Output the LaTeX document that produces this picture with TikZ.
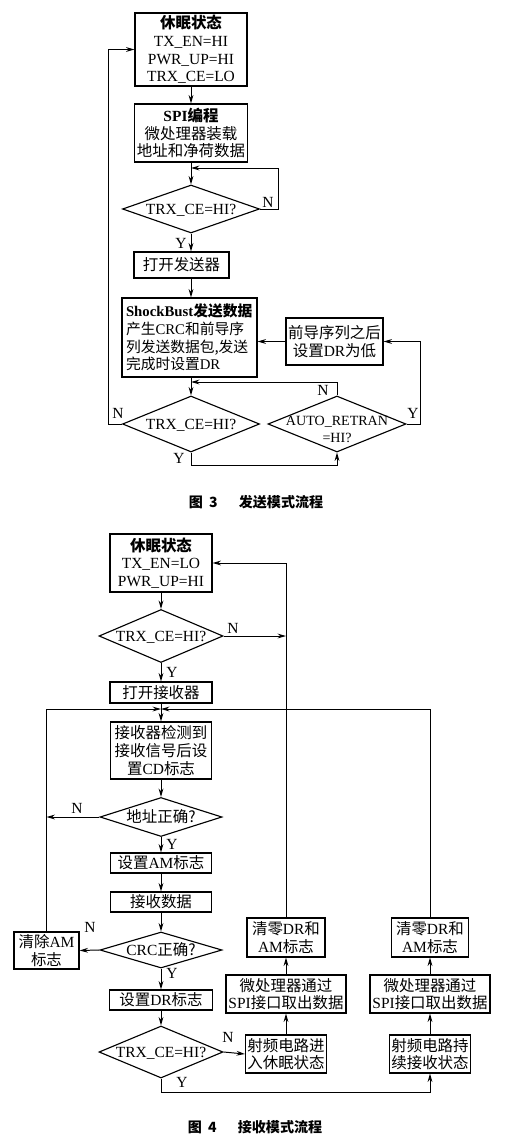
\documentclass[tikz,border=0pt]{standalone}
\usepackage{fontspec}
\setmainfont{Liberation Serif}
\newfontfamily\cjk{Noto Sans CJK SC}
\newfontfamily\capfont{Noto Sans CJK SC}[LetterSpace=22]
\newcommand\zh[1]{{\cjk #1}}
% text of a diamond takes no room, so the diamond keeps its given size
\newcommand\flattext[2][-3.6pt]{\makebox[0pt]{\smash{\raisebox{#1}{#2}}}}
\usetikzlibrary{arrows.meta, shapes.geometric, calc}

\tikzset{
  box/.style={draw, line width=0.8pt, inner sep=0pt, align=center, font=\fontsize{11}{12.5}\selectfont},
  cond/.style={draw, diamond, line width=0.8pt, inner sep=0pt, font=\fontsize{11}{12}\selectfont},
  arr/.style={line width=0.7pt, -{Stealth[length=6pt,width=3.4pt]}},
  lab/.style={font=\fontsize{11}{12}\selectfont, inner sep=0pt},
  captext/.style={font=\capfont\bfseries\fontsize{10}{12}\selectfont, inner sep=0pt},
}

\begin{document}
\begin{tikzpicture}[x=0.025cm, y=-0.025cm]
\useasboundingbox (0,0) rectangle (508,1141);

% send mode
\node[box, minimum width=112*0.025cm, minimum height=73*0.025cm] (sleepT) at (191,49.5)
  {\textbf{\zh{休眠状态}}\\TX\_EN=HI\\PWR\_UP=HI\\TRX\_CE=LO};
\node[box, minimum width=113*0.025cm, minimum height=58*0.025cm] (spiT) at (191,133)
  {\textbf{SPI\zh{编程}}\\\zh{微处理器装载}\\\zh{地址和净荷数据}};
\node[cond, minimum width=137*0.025cm, minimum height=48*0.025cm] (chkT) at (191,209) {\flattext{TRX\_CE=HI?}};
\node[box, minimum width=95*0.025cm, minimum height=26*0.025cm] (txon) at (181.5,265) {\zh{打开发送器}};
\node[box, align=left, font=\fontsize{10.5}{12.5}\selectfont, text width=127*0.025cm,
  minimum width=135*0.025cm, minimum height=79*0.025cm] (burst) at (189.5,337.5)
  {\textbf{ShockBust\zh{发送数据}}\\\zh{产生}CRC\zh{和前导序}\\\zh{列发送数据包,发送}\\\zh{完成时设置}DR};
\node[box, minimum width=97*0.025cm, minimum height=47*0.025cm] (pre) at (334.5,341.5)
  {\zh{前导序列之后}\\\zh{设置}DR\zh{为低}};
\node[cond, minimum width=137*0.025cm, minimum height=56*0.025cm] (chkT2) at (191,424) {\flattext{TRX\_CE=HI?}};
\node[cond, font=\fontsize{10}{12}\selectfont, minimum width=138*0.025cm, minimum height=56*0.025cm] (retran) at (337,424)
  {\flattext[-7.5pt]{\begin{tabular}[c]{@{}c@{}}AUTO\_RETRAN\\=HI?\end{tabular}}};
\coordinate (fbT) at (191,168);
\coordinate (mgT) at (191,382);

\draw[arr] (sleepT) -- (spiT);
\draw[arr] (spiT) -- (chkT);
\draw[arr] (chkT.east) -- ++(18,0) |- (fbT);
\draw[arr] (chkT.south) -- (chkT.south |- txon.north);
\draw[arr] (chkT.south |- txon.south) -- (chkT.south |- burst.north);
\draw[arr] (chkT.south |- burst.south) -- (chkT2.north);
\draw[arr] (retran.north) |- (mgT);
\draw[arr] (retran.east) -- ++(14,0) |- (pre.east);
\draw[arr] (pre.west) -- (pre.west -| burst.east);
\draw[arr] (chkT2.west) -- ++(-13,0) |- (sleepT.west);
\draw[arr] (chkT2.south) -- ++(0,13) -| (retran.south);

\node[lab] (nT1) at (268,202) {N};
\node[lab] (yT1) at (181,243) {Y};
\node[lab] (nT2) at (118,413) {N};
\node[lab] (yT2) at (179,458) {Y};
\node[lab] (nT3) at (323,390) {N};
\node[lab] (yT3) at (413,413) {Y};
\node[captext] (cap3) at (256,502) {\zh{图} 3\hspace{1.5em}\zh{发送模式流程}};

% receive mode
\node[box, minimum width=102*0.025cm, minimum height=58*0.025cm] (sleepR) at (161,563)
  {\textbf{\zh{休眠状态}}\\TX\_EN=LO\\PWR\_UP=HI};
\node[cond, minimum width=124*0.025cm, minimum height=53*0.025cm] (chkR) at (161,636) {\flattext{TRX\_CE=HI?}};
\node[box, minimum width=102*0.025cm, minimum height=21*0.025cm] (rxon) at (161,692.5) {\zh{打开接收器}};
\node[box, minimum width=101*0.025cm, minimum height=57*0.025cm] (detect) at (161,750.5)
  {\zh{接收器检测到}\\\zh{接收信号后设}\\\zh{置}CD\zh{标志}};
\node[cond, minimum width=122*0.025cm, minimum height=39*0.025cm] (addr) at (161,817) {\flattext{\zh{地址正确?}}};
\node[box, minimum width=101*0.025cm, minimum height=20*0.025cm] (setam) at (161,863) {\zh{设置}AM\zh{标志}};
\node[box, minimum width=101*0.025cm, minimum height=20*0.025cm] (rxdata) at (161,902) {\zh{接收数据}};
\node[cond, minimum width=122*0.025cm, minimum height=36*0.025cm] (crc) at (161,950) {\flattext{CRC\zh{正确?}}};
\node[box, minimum width=65*0.025cm, minimum height=37*0.025cm] (clram) at (46.5,950.5)
  {\zh{清除}AM\\\zh{标志}};
\node[box, minimum width=103*0.025cm, minimum height=20*0.025cm] (setdr) at (161,1000) {\zh{设置}DR\zh{标志}};
\node[cond, minimum width=124*0.025cm, minimum height=52*0.025cm] (chkR2) at (161,1052) {\flattext{TRX\_CE=HI?}};
\node[box, minimum width=81*0.025cm, minimum height=38*0.025cm] (sleep2) at (286,1054)
  {\zh{射频电路进}\\\zh{入休眠状态}};
\node[box, minimum width=120*0.025cm, minimum height=38*0.025cm] (spi2) at (286,994)
  {\zh{微处理器通过}\\SPI\zh{接口取出数据}};
\node[box, minimum width=78*0.025cm, minimum height=39*0.025cm] (clr1) at (286,937.5)
  {\zh{清零}DR\zh{和}\\AM\zh{标志}};
\node[box, minimum width=81*0.025cm, minimum height=38*0.025cm] (keep) at (430,1054)
  {\zh{射频电路持}\\\zh{续接收状态}};
\node[box, minimum width=120*0.025cm, minimum height=38*0.025cm] (spi3) at (430,994)
  {\zh{微处理器通过}\\SPI\zh{接口取出数据}};
\node[box, minimum width=77*0.025cm, minimum height=39*0.025cm] (clr2) at (430,937.5)
  {\zh{清零}DR\zh{和}\\AM\zh{标志}};
\coordinate (mgR) at (161,709);

\draw[arr] (sleepR) -- (chkR);
\draw[arr] (chkR.east) -- (chkR.east -| clr1.north);
\draw[arr] (clr1.north) |- (sleepR.east);
\draw[arr] (chkR) -- (rxon);
\draw[arr] (rxon) -- (detect);
\draw[arr] (clram.north) |- (mgR);
\draw[arr] (clr2.north) |- (mgR);
\draw[arr] (detect) -- (addr);
\draw[arr] (addr.west) -- (addr.west -| clram.north);
\draw[arr] (addr) -- (setam);
\draw[arr] (setam) -- (rxdata);
\draw[arr] (rxdata) -- (crc);
\draw[arr] (crc.west) -- (clram.east);
\draw[arr] (crc) -- (setdr);
\draw[arr] (setdr) -- (chkR2);
\draw[arr] (chkR2.east) -- (sleep2.west);
\draw[arr] (sleep2) -- (spi2);
\draw[arr] (spi2) -- (clr1);
\draw[arr] (chkR2.south) -- ++(0,14) -| (keep.south);
\draw[arr] (keep) -- (spi3);
\draw[arr] (spi3) -- (clr2);

\node[lab] (nR1) at (233,628) {N};
\node[lab] (yR1) at (172,672) {Y};
\node[lab] (nR2) at (77,808) {N};
\node[lab] (yR2) at (172,844) {Y};
\node[lab] (nR3) at (90,927) {N};
\node[lab] (yR3) at (172,973) {Y};
\node[lab] (nR4) at (228,1037) {N};
\node[lab] (yR4) at (182,1082) {Y};
\node[captext] (cap4) at (255,1127) {\zh{图} 4\hspace{1.5em}\zh{接收模式流程}};
\end{tikzpicture}
\end{document}
